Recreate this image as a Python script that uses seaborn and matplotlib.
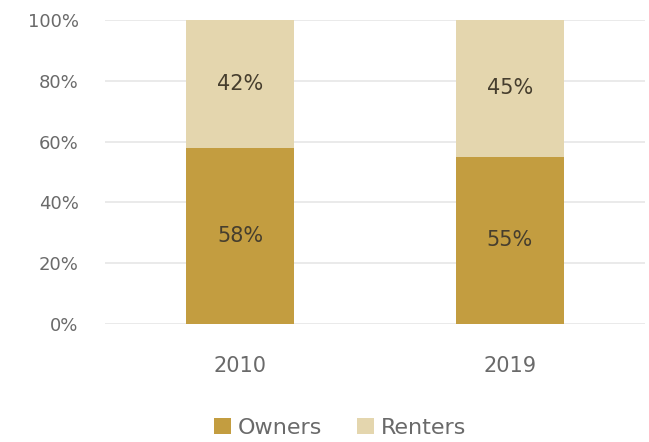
import matplotlib
matplotlib.use("Agg")
import matplotlib.pyplot as plt
import seaborn as sns
import pandas as pd

years = ["2010", "2019"]
owners = [58, 55]
renters = [42, 45]
yticks = [0, 20, 40, 60, 80, 100]

owner_color = "#C39D40"
renter_color = "#E4D6AE"
label_color = "#463E2E"
tick_color = "#6A6A6A"

sns.set_theme(style="white")
plt.rcParams["font.family"] = ["DejaVu Sans"]

df = pd.DataFrame({"year": years, "Owners": owners, "Renters": renters})
df["total"] = df["Owners"] + df["Renters"]

fig = plt.figure(figsize=(6.49, 4.42), dpi=100)
ax = fig.add_axes([105 / 649, 1 - 324 / 442, 540 / 649, 304 / 442])

for y in yticks:
    ax.axhline(y, color="#E6E6E6", lw=1.2, zorder=0)

sns.barplot(data=df, x="year", y="total", color=renter_color, width=0.4,
            saturation=1, linewidth=0, ax=ax, zorder=2, label="Renters")
sns.barplot(data=df, x="year", y="Owners", color=owner_color, width=0.4,
            saturation=1, linewidth=0, ax=ax, zorder=3, label="Owners")

for i in range(len(years)):
    ax.text(i, owners[i] / 2, f"{owners[i]}%", ha="center", va="center",
            fontsize=15, color=label_color, zorder=4)
    ax.text(i, owners[i] + renters[i] / 2, f"{renters[i]}%", ha="center",
            va="center", fontsize=15, color=label_color, zorder=4)

ax.set_xlim(-0.5, 1.5)
ax.set_ylim(0, 100)
ax.set_yticks(yticks)
ax.set_yticklabels([f"{t}%" for t in yticks], fontsize=13, color=tick_color)
ax.tick_params(axis="x", labelsize=15, labelcolor=tick_color, pad=23, length=0)
ax.tick_params(axis="y", pad=19, length=0)
ax.set_xlabel("")
ax.set_ylabel("")
for s in ax.spines.values():
    s.set_visible(False)

handles, labels = ax.get_legend_handles_labels()
if ax.get_legend() is not None:
    ax.get_legend().remove()
order = [labels.index("Owners"), labels.index("Renters")]
leg = fig.legend([handles[k] for k in order], [labels[k] for k in order],
                 loc="center", bbox_to_anchor=(340 / 649, 1 - 428 / 442),
                 ncol=2, frameon=False, fontsize=16, handlelength=0.75,
                 handleheight=0.75, handletextpad=0.3, columnspacing=1.6)
for t in leg.get_texts():
    t.set_color(tick_color)

fig.savefig("out.png", dpi=100)
